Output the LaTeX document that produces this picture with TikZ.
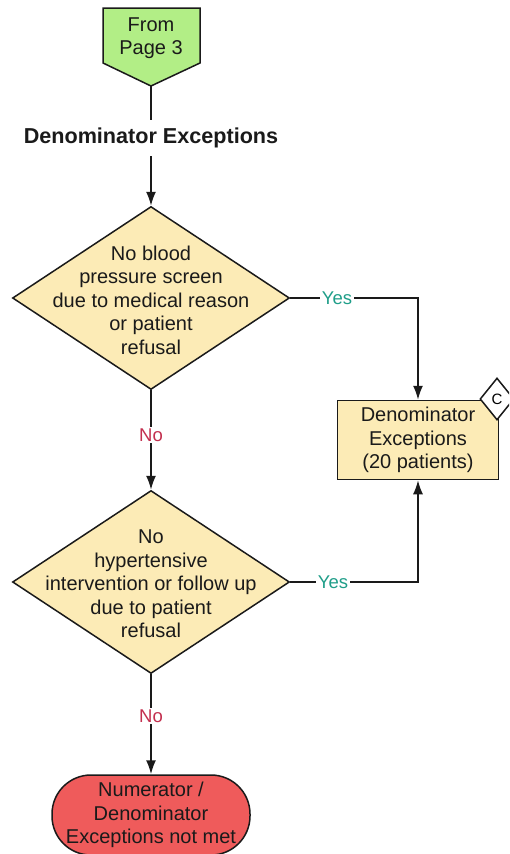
\documentclass[tikz,border=0pt]{standalone}
\usepackage{fontspec}
\setmainfont{Liberation Sans}
\usetikzlibrary{shapes.geometric,arrows.meta}
\definecolor{fgreen}{HTML}{B2EE86}
\definecolor{fwheat}{HTML}{FCEBB6}
\definecolor{fred}{HTML}{EF5B5B}
\definecolor{yescol}{HTML}{1F9E89}
\definecolor{nocol}{HTML}{C3304F}
\definecolor{ink}{HTML}{1A1A1A}
\tikzset{
  x=1pt,y=-1pt,
  txt/.style={font=\fontsize{20}{23.5}\selectfont,align=center,text=ink,inner sep=0pt},
  decision/.style={diamond,draw=ink,line width=1.5pt,fill=fwheat,minimum width=277pt,minimum height=183pt,inner sep=0pt},
  procbox/.style={rectangle,draw=ink,line width=1.5pt,fill=fwheat,minimum width=161pt,minimum height=79pt,txt},
  termbox/.style={rectangle,rounded corners=39pt,draw=ink,line width=1.5pt,fill=fred,minimum width=198pt,minimum height=80pt,txt},
  conn/.style={draw=ink,line width=1.6pt},
  arr/.style={conn,-{Latex[length=14pt,width=10pt]}},
  yeslbl/.style={fill=white,text=yescol,font=\fontsize{18.5}{20}\selectfont,inner sep=1.5pt},
  nolbl/.style={fill=white,text=nocol,font=\fontsize{18.5}{20}\selectfont,inner sep=2pt},
}
\begin{document}
\begin{tikzpicture}
\useasboundingbox (0,0) rectangle (509,854);
\clip (0,0) rectangle (509,854);
% off-page connector
\draw[ink,line width=1.5pt,fill=fgreen] (103,8) -- (200,8) -- (200,63) -- (151,86) -- (103,63) -- cycle;
\coordinate (fromtip) at (151,86);
\node[txt] (from) at (151,38) {From\\Page 3};
% title
\node[font=\bfseries\fontsize{21.6}{25}\selectfont,text=ink,inner sep=0pt,minimum height=36pt] (title) at (151,138) {Denominator Exceptions};
% decisions
\node[decision] (d1) at (151,298) {};
\node[txt] (d1t) at (151,300) {No blood\\pressure screen\\due to medical reason\\or patient\\refusal};
\node[decision] (d2) at (151,582) {};
\node[txt] (d2t) at (151,584) {No\\hypertensive\\intervention or follow up\\due to patient\\refusal};
% process box
\node[procbox] (box) at (418,440) {Denominator\\Exceptions\\(20 patients)};
\node[diamond,draw=ink,line width=1.5pt,fill=white,minimum width=34pt,minimum height=42pt,inner sep=0pt,font=\fontsize{15}{16}\selectfont] (cmark) at (497,399) {C};
% terminal
\node[termbox] (term) at (151,815) {Numerator /\\Denominator\\Exceptions not met};
% connectors
\draw[conn] (fromtip) -- (title.north);
\draw[arr] (title.south) -- (d1.north);
\draw[arr] (d1.east) -| (box.north);
\draw[arr] (d2.east) -| (box.south);
\draw[arr] (d1.south) -- (d2.north);
\draw[arr] (d2.south) -- (term.north);
% labels
\node[yeslbl] (y1) at (337,298) {Yes};
\node[yeslbl] (y2) at (333,582) {Yes};
\node[nolbl] (n1) at (151,435) {No};
\node[nolbl] (n2) at (151,716) {No};
\end{tikzpicture}
\end{document}
